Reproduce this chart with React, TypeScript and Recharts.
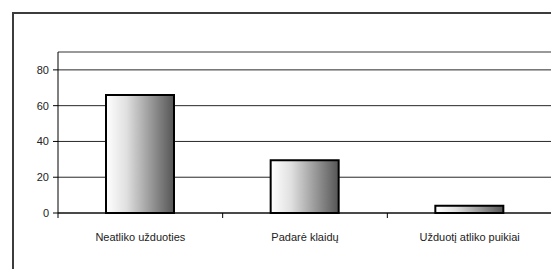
import React from 'react';
import { BarChart, Bar, XAxis, YAxis, CartesianGrid, ReferenceLine } from 'recharts';

const categories = ['Neatliko užduoties', 'Padarė klaidų', 'Užduotį atliko puikiai'];
const values = [66, 29.5, 4];
const yTicks = [0, 20, 40, 60, 80];

const data = categories.map((name, i) => ({ name, value: values[i] }));

const W = 559;
const H = 277;
const BAND_HALF = (559 - 58 - 7) / 3 / 2;

// category ticks sit on the band edges, not the centres (Excel style)
function EdgeTick(props: any) {
  const { x, y, payload, index } = props;
  const off = payload && payload.offset ? payload.offset : BAND_HALF;
  const top = y - 20;
  return (
    <g>
      <line x1={x - off} x2={x - off} y1={top} y2={top + 5} stroke="#000" />
      {index === categories.length - 1 && (
        <line x1={x + off} x2={x + off} y1={top} y2={top + 5} stroke="#000" />
      )}
      <text x={x} y={y} dy="0.71em" textAnchor="middle" fontSize={11} fill="#222" fontFamily="'Liberation Sans', Arial, sans-serif">
        {payload.value}
      </text>
    </g>
  );
}

export default function App() {
  return (
    <div style={{ position: 'relative', width: W, height: H, overflow: 'hidden', margin: -8, background: '#fff' }}>
      <div
        style={{
          position: 'absolute',
          left: 12,
          top: 12,
          width: 620,
          height: 320,
          border: '2px solid #3c3c3c',
          boxSizing: 'border-box',
        }}
      />
      <div style={{ position: 'absolute', left: 0, top: 0 }}>
        <BarChart width={W} height={H} data={data} margin={{ top: 52, right: 7, left: 0, bottom: 0 }}>
          <defs>
            <linearGradient id="barFill" x1="0" y1="0" x2="1" y2="0">
              <stop offset="0%" stopColor="#ffffff" />
              <stop offset="30%" stopColor="#e0e0e0" />
              <stop offset="100%" stopColor="#555555" />
            </linearGradient>
          </defs>
          <CartesianGrid vertical={false} stroke="#000" strokeOpacity={0.85} />
          <ReferenceLine y={90} stroke="#999" strokeWidth={2} ifOverflow="visible" />
          <ReferenceLine x={categories[categories.length - 1]} position="end" stroke="#999" strokeWidth={2} ifOverflow="visible" />
          <XAxis
            dataKey="name"
            height={64}
            axisLine={{ stroke: '#000' }}
            tickLine={false}
            tickSize={5}
            tickMargin={15}
            interval={0}
            tick={<EdgeTick />}
          />
          <YAxis
            width={58}
            domain={[0, 90]}
            ticks={yTicks}
            interval={0}
            axisLine={{ stroke: '#000' }}
            tickLine={{ stroke: '#000' }}
            tickSize={5}
            tickMargin={4}
            tick={{ fontSize: 11, fill: '#222', fontFamily: "'Liberation Sans', Arial, sans-serif" }}
          />
          <Bar dataKey="value" barSize={68} fill="url(#barFill)" stroke="#000" strokeWidth={2} isAnimationActive={false} />
        </BarChart>
      </div>
    </div>
  );
}
